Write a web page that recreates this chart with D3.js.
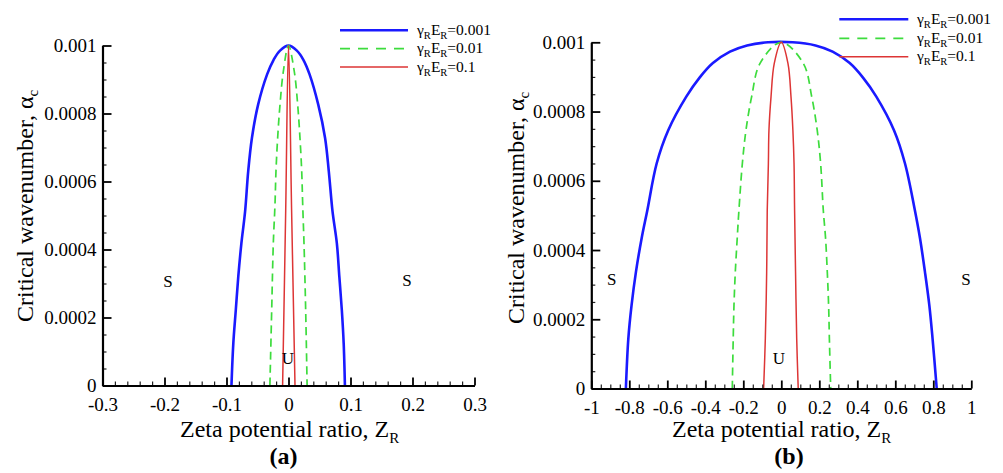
<!DOCTYPE html>
<html><head><meta charset="utf-8">
<script src="https://cdn.jsdelivr.net/npm/d3@7"></script>
<style>
body{margin:0;background:#fff;}
svg{display:block;font-family:"Liberation Serif","Times New Roman",serif;}
</style></head><body>
<svg id="chart" width="1003" height="473"></svg>
<script>
// ---------- data ----------
const legendValues = ["0.001", "0.01", "0.1"];

// panel (a): gamma_R E_R = 0.001, 0.01, 0.1
const zrA1 = [-0.092, -0.089, -0.085, -0.081, -0.076, -0.070, -0.065, -0.059, -0.049, -0.0345, -0.024, -0.0137, 0, 0.0135, 0.024, 0.034, 0.048, 0.059, 0.065, 0.071, 0.078, 0.082, 0.086, 0.089, 0.091];
const alphaA1 = [0, 0.000124, 0.000222, 0.00032, 0.000418, 0.000512, 0.00063, 0.000728, 0.000826, 0.000915, 0.000958, 0.000985, 0.001, 0.000985, 0.000958, 0.000915, 0.000826, 0.000728, 0.00063, 0.000512, 0.000418, 0.00032, 0.000222, 0.000124, 0];
const zrA2 = [-0.030, -0.0271, -0.0245, -0.0218, -0.0202, -0.0175, -0.0137, -0.0083, 0, 0.0093, 0.0148, 0.0185, 0.0213, 0.0229, 0.025, 0.0277, 0.030];
const alphaA2 = [0, 0.000222, 0.000418, 0.000532, 0.00063, 0.000728, 0.000826, 0.000924, 0.001, 0.000924, 0.000826, 0.000728, 0.00063, 0.000532, 0.000418, 0.000222, 0];
const zrA3 = [-0.0095, -0.0045, 0, 0.0050, 0.0105];
const alphaA3 = [0, 0.000516, 0.001, 0.000516, 0];

// panel (b)
const zrB1 = [-0.818, -0.805, -0.788, -0.765, -0.735, -0.705, -0.656, -0.595, -0.5, -0.43, -0.36, -0.27, -0.18, -0.07, 0.06, 0.18, 0.27, 0.36, 0.43, 0.5, 0.593, 0.651, 0.703, 0.73, 0.756, 0.779, 0.796, 0.818];
const alphaB1 = [0, 0.000145, 0.000241, 0.000337, 0.000434, 0.000515, 0.00065, 0.000746, 0.000843, 0.000898, 0.00094, 0.000973, 0.000991, 0.001, 0.001, 0.000991, 0.000973, 0.00094, 0.000898, 0.000843, 0.000746, 0.00065, 0.000515, 0.000434, 0.000337, 0.000241, 0.000145, 0];
const zrB2 = [-0.258, -0.253, -0.249, -0.242, -0.232, -0.223, -0.205, -0.186, -0.156, -0.112, 0, 0.116, 0.16, 0.189, 0.207, 0.221, 0.233, 0.242, 0.249, 0.253, 0.26];
const alphaB2 = [0, 0.000145, 0.000241, 0.000337, 0.000434, 0.000515, 0.00065, 0.000746, 0.000843, 0.000939, 0.001, 0.000939, 0.000843, 0.000746, 0.00065, 0.000515, 0.000434, 0.000337, 0.000241, 0.000145, 0];
const zrB3 = [-0.093, -0.084, -0.077, -0.074, -0.068, -0.065, -0.054, -0.037, 0, 0.035, 0.051, 0.061, 0.067, 0.07, 0.075, 0.081, 0.089];
const alphaB3 = [0, 0.000145, 0.000337, 0.000515, 0.00065, 0.000746, 0.000843, 0.000939, 0.001, 0.000939, 0.000843, 0.000746, 0.00065, 0.000515, 0.000337, 0.000145, 0];

// axis ticks
const xTicksA = [-0.3, -0.2, -0.1, 0, 0.1, 0.2, 0.3];
const xMinorA = d3.range(-0.3, 0.3001, 0.02);
const xTicksB = [-1, -0.8, -0.6, -0.4, -0.2, 0, 0.2, 0.4, 0.6, 0.8, 1];
const xMinorB = d3.range(-1, 1.0001, 0.05);
const yTicks = [0, 0.0002, 0.0004, 0.0006, 0.0008, 0.001];
const yMinor = d3.range(0, 0.0010001, 0.00005);

// ---------- styling ----------
const seriesStyle = [
  {color: "#1a1aff", width: 2.6, dash: null, legendDash: null},
  {color: "#3ddc3d", width: 1.7, dash: "8,5", legendDash: "10,8"},
  {color: "#dd3535", width: 1.5, dash: null, legendDash: null}
];
const serif = '"Liberation Serif","Times New Roman",serif';

const svg = d3.select("#chart");
const fmt = d => String(+d.toFixed(5));

const panels = [
  {
    xDomain: [-0.3, 0.3], xRange: [102.5, 474.5], yRange: [385.5, 45.5],
    xTicks: xTicksA, xMinor: xMinorA,
    series: [[zrA1, alphaA1], [zrA2, alphaA2], [zrA3, alphaA3]],
    legend: {x0: 340, x1: 408, ys: [30.3, 48.7, 67], tx: 417},
    yTitle: {x: 33, y: 322}, xTitle: {x: 180, y: 437},
    tag: {text: "(a)", x: 283.5, y: 464},
    marks: [{t: "S", x: 168, y: 287}, {t: "S", x: 407, y: 286}, {t: "U", x: 288, y: 364}]
  },
  {
    xDomain: [-1, 1], xRange: [591.3, 971.3], yRange: [388.5, 42.3],
    xTicks: xTicksB, xMinor: xMinorB,
    series: [[zrB1, alphaB1], [zrB2, alphaB2], [zrB3, alphaB3]],
    legend: {x0: 839.3, x1: 908.3, ys: [19.3, 38.3, 56.7], tx: 917},
    yTitle: {x: 523.5, y: 324}, xTitle: {x: 672, y: 437},
    tag: {text: "(b)", x: 789, y: 464},
    marks: [{t: "S", x: 611.7, y: 285}, {t: "S", x: 966, y: 285}, {t: "U", x: 779, y: 364}]
  }
];

panels.forEach(p => {
  const x = d3.scaleLinear().domain(p.xDomain).range(p.xRange);
  const y = d3.scaleLinear().domain([0, 0.001]).range(p.yRange);
  const g = svg.append("g");

  // curves
  const line = d3.line().x(d => x(d[0])).y(d => y(d[1])).curve(d3.curveCatmullRom.alpha(0.5));
  p.series.forEach(([zr, al], i) => {
    const st = seriesStyle[i];
    g.append("path")
      .datum(zr.map((v, k) => [v, al[k]]))
      .attr("d", line)
      .attr("fill", "none")
      .attr("stroke", st.color)
      .attr("stroke-width", st.width)
      .attr("stroke-dasharray", st.dash)
      .attr("stroke-linejoin", "round");
  });

  // minor ticks
  const isMajor = (v, majors) => majors.some(m => Math.abs(m - v) < 1e-9);
  g.append("g").attr("transform", `translate(0,${p.yRange[0]})`)
    .call(d3.axisBottom(x).tickValues(p.xMinor.filter(v => !isMajor(v, p.xTicks))).tickSize(-4).tickSizeOuter(0).tickFormat(""))
    .call(a => a.select(".domain").remove())
    .call(a => a.selectAll("line").attr("stroke", "#222").attr("stroke-width", 1.2));
  g.append("g").attr("transform", `translate(${p.xRange[0]},0)`)
    .call(d3.axisLeft(y).tickValues(yMinor.filter(v => !isMajor(v, yTicks))).tickSize(-4).tickSizeOuter(0).tickFormat(""))
    .call(a => a.select(".domain").remove())
    .call(a => a.selectAll("line").attr("stroke", "#222").attr("stroke-width", 1.2));

  // major axes
  const xa = g.append("g").attr("transform", `translate(0,${p.yRange[0]})`)
    .call(d3.axisBottom(x).tickValues(p.xTicks).tickSize(-8).tickSizeOuter(0).tickPadding(12).tickFormat(d => String(+d.toFixed(1))));
  const ya = g.append("g").attr("transform", `translate(${p.xRange[0]},0)`)
    .call(d3.axisLeft(y).tickValues(yTicks).tickSize(-9).tickSizeOuter(0).tickPadding(6).tickFormat(fmt));
  [xa, ya].forEach(a => {
    a.attr("font-family", serif).attr("font-size", 19);
    a.select(".domain").attr("stroke", "#000").attr("stroke-width", 2.2);
    a.selectAll(".tick line").attr("stroke", "#000").attr("stroke-width", 1.8);
    a.selectAll(".tick text").attr("fill", "#000");
  });

  // axis titles
  const yt = g.append("text")
    .attr("transform", `translate(${p.yTitle.x},${p.yTitle.y}) rotate(-90)`)
    .style("font-size", "24px").attr("fill", "#000");
  yt.append("tspan").text("Critical wavenumber, α");
  yt.append("tspan").attr("dy", 5).style("font-size", "15px").text("c");

  const xt = g.append("text").attr("x", p.xTitle.x).attr("y", p.xTitle.y)
    .style("font-size", "24px").attr("fill", "#000");
  xt.append("tspan").text("Zeta potential ratio, Z");
  xt.append("tspan").attr("dy", 6).style("font-size", "15px").text("R");

  g.append("text").attr("x", p.tag.x).attr("y", p.tag.y).attr("text-anchor", "middle")
    .style("font-size", "24px").style("font-weight", "bold").attr("fill", "#000").text(p.tag.text);

  // region labels
  p.marks.forEach(m => {
    g.append("text").attr("x", m.x).attr("y", m.y).attr("text-anchor", "middle")
      .style("font-size", "17px").attr("fill", "#000").text(m.t);
  });

  // legend
  p.legend.ys.forEach((ly, i) => {
    const st = seriesStyle[i];
    g.append("line").attr("x1", p.legend.x0).attr("x2", p.legend.x1).attr("y1", ly).attr("y2", ly)
      .attr("stroke", st.color).attr("stroke-width", st.width).attr("stroke-dasharray", st.legendDash);
    const t = g.append("text").attr("x", p.legend.tx).attr("y", ly + 4.5).style("font-size", "15.5px").attr("fill", "#000");
    t.append("tspan").text("γ");
    t.append("tspan").attr("dy", 4).style("font-size", "10.5px").text("R");
    t.append("tspan").attr("dy", -4).text("E");
    t.append("tspan").attr("dy", 4).style("font-size", "10.5px").text("R");
    t.append("tspan").attr("dy", -4).text("=" + legendValues[i]);
  });
});
</script>
</body></html>
